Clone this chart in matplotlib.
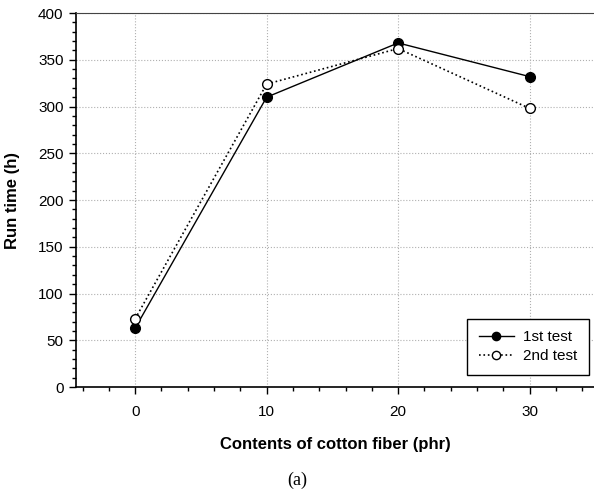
import matplotlib
matplotlib.use("Agg")
import matplotlib.pyplot as plt
from matplotlib.ticker import MultipleLocator

x = [0, 10, 20, 30]
test1 = [63, 310, 368, 332]
test2 = [73, 324, 362, 298]
labels = ["1st test", "2nd test"]
xticks = [0, 10, 20, 30]

plt.rcParams['font.family'] = ['Liberation Sans', 'DejaVu Sans']

fig = plt.figure(figsize=(5.94, 4.97), dpi=100)
ax = fig.add_axes([0.128, 0.2213, 0.872, 0.7525])

ax.plot(x, test1, '-', color='black', lw=1.0, marker='o', ms=7,
        mfc='black', mec='black', label=labels[0], zorder=3)
ax.plot(x, test2, ':', color='black', lw=1.2, marker='o', ms=7,
        mfc='white', mec='black', mew=1.0, label=labels[1], zorder=3)

ax.set_xlim(-4.5, 34.9)
ax.set_ylim(0, 400)
ax.set_xticks(xticks)
ax.xaxis.set_minor_locator(MultipleLocator(2))
ax.yaxis.set_major_locator(MultipleLocator(50))
ax.yaxis.set_minor_locator(MultipleLocator(10))
ax.tick_params(axis='both', which='major', direction='out', length=5, width=1, labelsize=11)
ax.tick_params(axis='both', which='minor', direction='out', length=3, width=1)
ax.tick_params(axis='x', pad=8)
ax.tick_params(axis='y', pad=4)
ax.grid(True, which='major', linestyle=':', color='#b0b0b0', lw=0.8)

ax.spines['right'].set_visible(False)
ax.spines['top'].set_color('#444444')
ax.spines['left'].set_linewidth(1.2)
ax.spines['bottom'].set_linewidth(1.2)

ax.set_xlabel('Contents of cotton fiber (phr)', fontsize=12, fontweight='bold', labelpad=13)
ax.set_ylabel('Run time (h)', fontsize=12, fontweight='bold', labelpad=13)

leg = ax.legend(loc='lower right', bbox_to_anchor=(0.9985, 0.02), fontsize=11,
                frameon=True, fancybox=False, edgecolor='black', framealpha=1,
                handlelength=2.3, handletextpad=0.6, borderpad=0.75, labelspacing=0.35,
                borderaxespad=0.3, markerscale=0.85)
leg.get_frame().set_linewidth(1.0)

fig.text(0.5, 0.034, '(a)', ha='center', va='center', fontsize=13,
         family=['Liberation Serif', 'DejaVu Serif'])

fig.savefig('out.png', dpi=100)
